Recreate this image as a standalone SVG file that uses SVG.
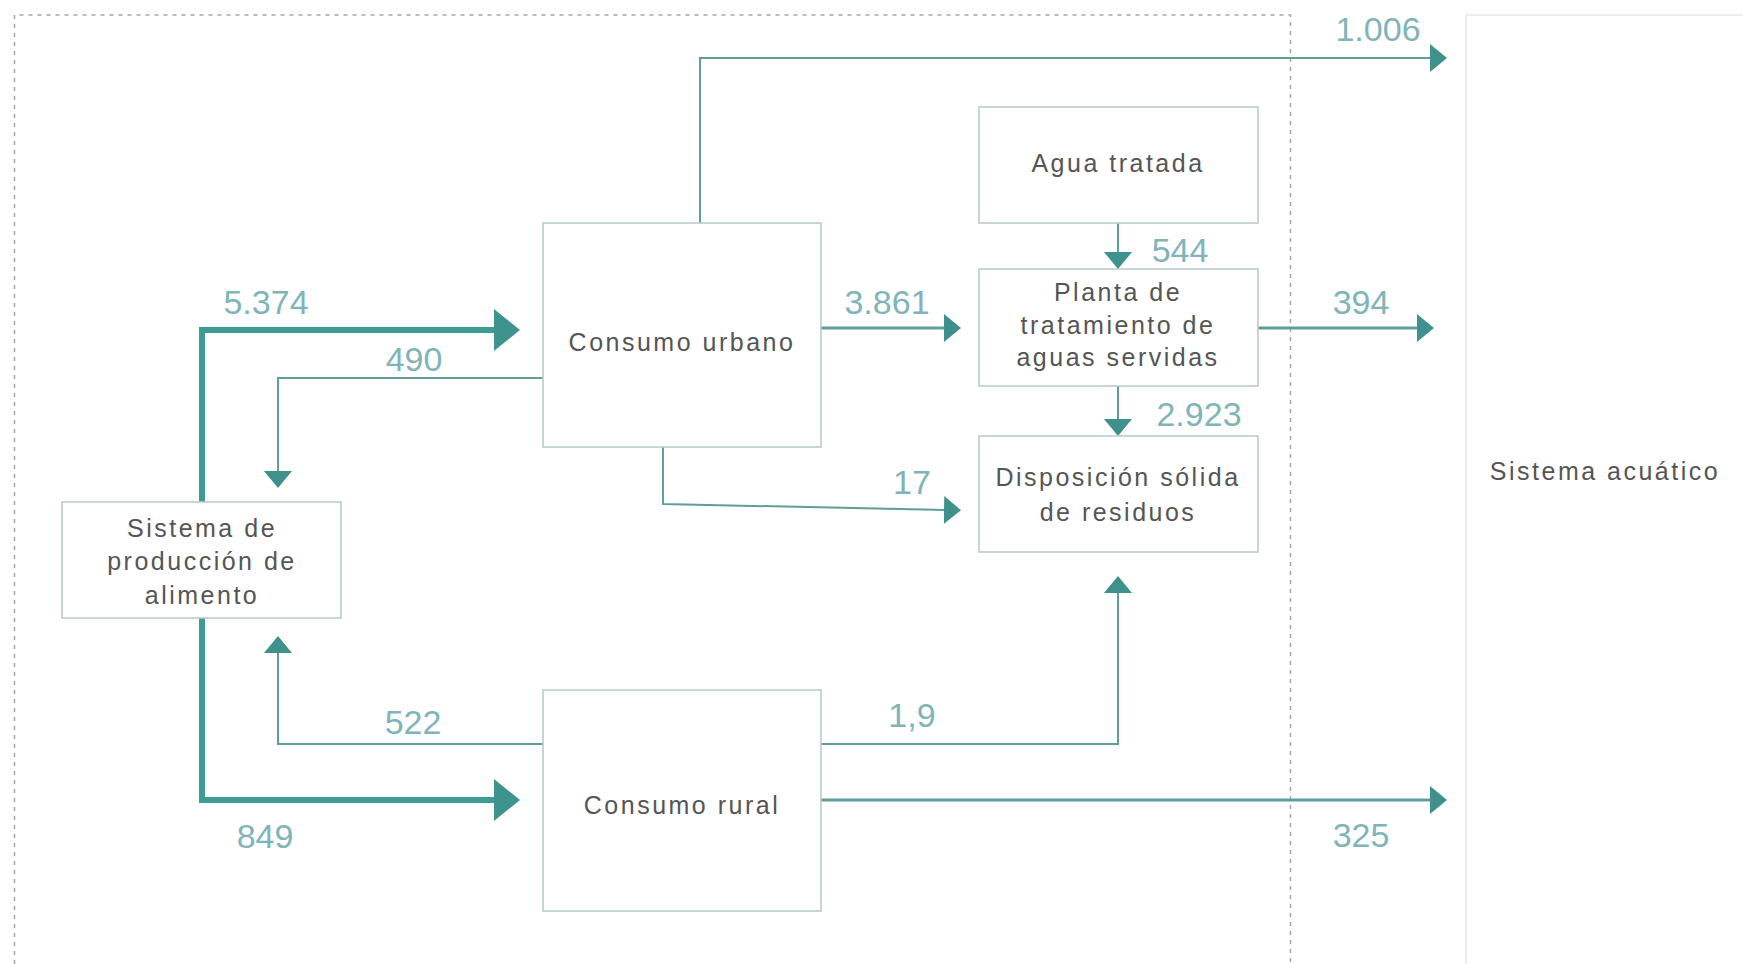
<svg xmlns="http://www.w3.org/2000/svg" width="1743" height="964" viewBox="0 0 1743 964">
<defs>
<style>
.box{fill:#fff;stroke:#b9cbcc;stroke-width:1.6}
.txt{font-family:"Liberation Sans",Arial,sans-serif;font-size:25px;fill:#555;letter-spacing:2.5px;text-anchor:middle}
.num{font-family:"Liberation Sans",Arial,sans-serif;font-size:34px;fill:#7fb5b9;text-anchor:middle}
.thin{fill:none;stroke:#609d9b;stroke-width:2}
.mid{fill:none;stroke:#609d9b;stroke-width:3}
.thick{fill:none;stroke:#3d9c93;stroke-width:6}
</style>
<marker id="ah" markerUnits="userSpaceOnUse" markerWidth="18" markerHeight="28" refX="2" refY="14" orient="auto" viewBox="0 0 18 28">
<path d="M0,0 L17,14 L0,28 z" fill="#3f918d"/>
</marker>
<marker id="ahT" markerUnits="userSpaceOnUse" markerWidth="27" markerHeight="42" refX="2" refY="21" orient="auto" viewBox="0 0 27 42">
<path d="M0,0 L26,21 L0,42 z" fill="#3f938e"/>
</marker>
</defs>
<rect width="1743" height="964" fill="#fff"/>
<g id="frame">
<path d="M14.5,964 V15 H1290.5 V964" fill="none" stroke="#a6a6a6" stroke-width="1.5" stroke-dasharray="4 5"/>
</g>
<g id="sistema-acuatico">
<path d="M1466,964 V15 H1743" fill="none" stroke="#e4e9e9" stroke-width="1.5"/>
<text class="txt" x="1605" y="480">Sistema acuático</text>
</g>
<g id="connectors">
<path class="thick" d="M202,502 V330 H496" marker-end="url(#ahT)"/>
<path class="thick" d="M202,618 V800 H496" marker-end="url(#ahT)"/>
<path class="thin" d="M543,378 H278 V473" marker-end="url(#ah)"/>
<path class="thin" d="M543,744 H278 V651" marker-end="url(#ah)"/>
<path class="thin" d="M700,223 V58 H1432" marker-end="url(#ah)"/>
<path class="mid" d="M821,328 H946" marker-end="url(#ah)"/>
<path class="thin" d="M663,447 V504 L946,510" marker-end="url(#ah)"/>
<path class="thin" d="M1118,223 V254" marker-end="url(#ah)"/>
<path class="thin" d="M1118,386 V421" marker-end="url(#ah)"/>
<path class="mid" d="M1258,328 H1419" marker-end="url(#ah)"/>
<path class="thin" d="M821,744 H1118 V591" marker-end="url(#ah)"/>
<path class="mid" d="M821,800 H1432" marker-end="url(#ah)"/>
<text class="num" x="266" y="314">5.374</text>
<text class="num" x="414" y="371">490</text>
<text class="num" x="887" y="314">3.861</text>
<text class="num" x="1180" y="262">544</text>
<text class="num" x="1199" y="426">2.923</text>
<text class="num" x="1378" y="41">1.006</text>
<text class="num" x="1361" y="314">394</text>
<text class="num" x="912" y="494">17</text>
<text class="num" x="912" y="727">1,9</text>
<text class="num" x="413" y="734">522</text>
<text class="num" x="265" y="848">849</text>
<text class="num" x="1361" y="847">325</text>
</g>
<g id="consumo-urbano">
<rect class="box" x="543" y="223" width="278" height="224"/>
<text class="txt" x="682" y="351">Consumo urbano</text>
</g>
<g id="consumo-rural">
<rect class="box" x="543" y="690" width="278" height="221"/>
<text class="txt" x="682" y="814">Consumo rural</text>
</g>
<g id="sistema-produccion">
<rect class="box" x="62" y="502" width="279" height="116"/>
<text class="txt" x="202" y="537">Sistema de</text>
<text class="txt" x="202" y="570">producción de</text>
<text class="txt" x="202" y="604">alimento</text>
</g>
<g id="agua-tratada">
<rect class="box" x="979" y="107" width="279" height="116"/>
<text class="txt" x="1118" y="172">Agua tratada</text>
</g>
<g id="planta">
<rect class="box" x="979" y="269" width="279" height="117"/>
<text class="txt" x="1118" y="301">Planta de</text>
<text class="txt" x="1118" y="334">tratamiento de</text>
<text class="txt" x="1118" y="366">aguas servidas</text>
</g>
<g id="disposicion">
<rect class="box" x="979" y="436" width="279" height="116"/>
<text class="txt" x="1118" y="486">Disposición sólida</text>
<text class="txt" x="1118" y="521">de residuos</text>
</g>
</svg>
